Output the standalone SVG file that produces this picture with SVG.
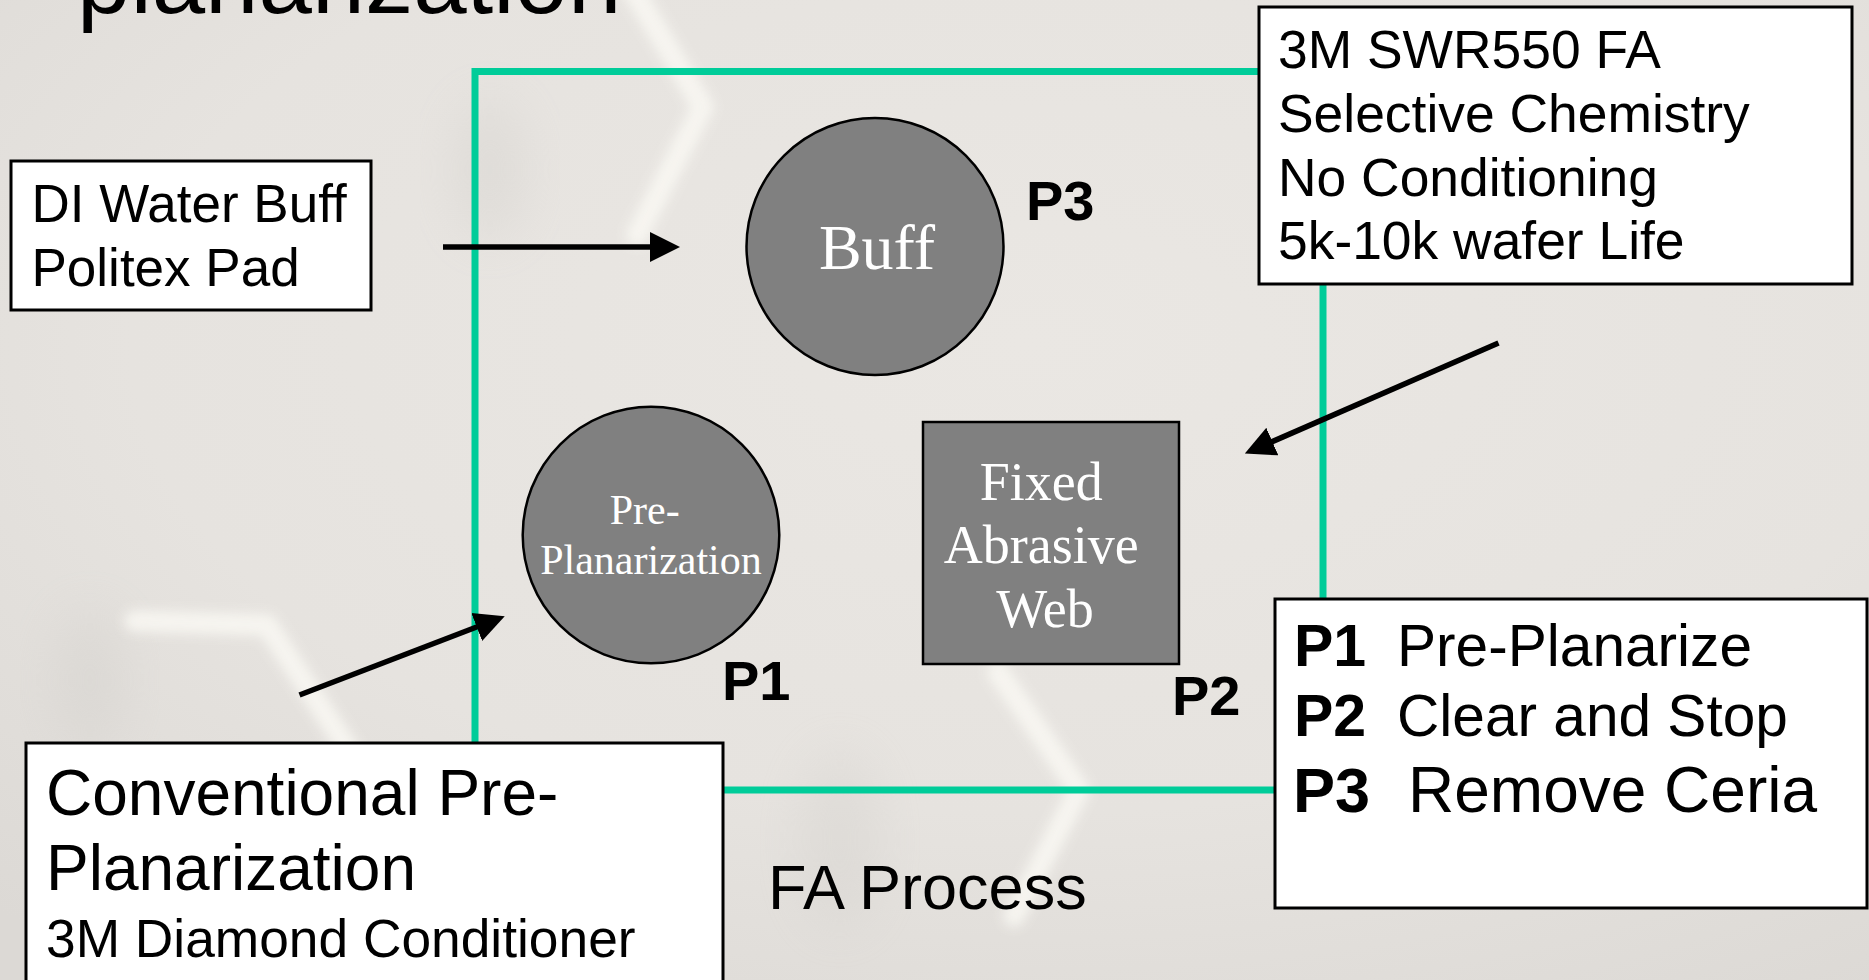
<svg xmlns="http://www.w3.org/2000/svg" width="1869" height="980" viewBox="0 0 1869 980">
  <defs>
    <style>
      .sans { font-family: "Liberation Sans", Arial, sans-serif; fill: #000; }
      .serif { font-family: "Liberation Serif", "Times New Roman", serif; fill: #fff; text-anchor: middle; }
      .bold { font-weight: bold; }
      .box { fill: #fff; stroke: #000; stroke-width: 3; }
      .pad { fill: #808080; stroke: #000; stroke-width: 2.5; }
      .frame { fill: none; stroke: #00cc99; stroke-width: 7; }
      .conn { stroke: #000; stroke-width: 5.5; fill: none; marker-end: url(#head); }
      .glow { fill: none; stroke: #f9f8f3; stroke-linejoin: round; stroke-linecap: round; filter: url(#soft); }
      .shade { fill: #cfccc8; filter: url(#haze); }
    </style>
    <marker id="head" viewBox="0 -16 32 32" refX="2" refY="0" markerWidth="32" markerHeight="32" markerUnits="userSpaceOnUse" orient="auto">
      <path d="M0,-15 L30,0 L0,15 z" fill="#000"/>
    </marker>
    <radialGradient id="bg" cx="0.55" cy="0.35" r="0.8">
      <stop offset="0" stop-color="#eae7e3"/>
      <stop offset="0.6" stop-color="#e6e3df"/>
      <stop offset="1" stop-color="#dcd9d5"/>
    </radialGradient>
    <filter id="soft" x="-30%" y="-30%" width="160%" height="160%">
      <feGaussianBlur stdDeviation="6"/>
    </filter>
    <filter id="haze" x="-50%" y="-50%" width="200%" height="200%">
      <feGaussianBlur stdDeviation="25"/>
    </filter>
  </defs>

  <!-- slide backdrop: soft hexagon highlights -->
  <rect x="0" y="0" width="1869" height="980" fill="url(#bg)"/>
  <g id="backdrop">
    <ellipse class="shade" cx="490" cy="170" rx="35" ry="70" opacity="0.35"/>
    <ellipse class="shade" cx="90" cy="680" rx="35" ry="70" opacity="0.35"/>
    <ellipse class="shade" cx="840" cy="840" rx="40" ry="90" opacity="0.3"/>
    <path class="glow" stroke-width="22" opacity="0.85" d="M630,-15 L703,107 L637,235"/>
    <path class="glow" stroke-width="22" opacity="0.85" d="M135,621 L267,625 L350,752"/>
    <path class="glow" stroke-width="22" opacity="0.85" d="M998,672 L1079,790 L1014,916"/>
  </g>

  <text id="title" class="sans" x="77" y="13" font-size="96" fill="#111">planarization</text>

  <!-- FA process frame -->
  <g id="fa-frame">
    <rect class="frame" x="475" y="71.5" width="848" height="718.5"/>
  </g>

  <!-- connectors -->
  <g id="connectors">
    <line class="conn" x1="443" y1="247" x2="652" y2="247"/>
    <line class="conn" x1="1498.5" y1="343" x2="1270.5" y2="442.4"/>
    <line class="conn" x1="299.5" y1="695" x2="478.6" y2="626.3"/>
  </g>

  <g id="di-water">
    <rect class="box" x="11" y="161" width="360" height="149"/>
    <text class="sans" x="31.5" y="222" font-size="53">DI Water Buff</text>
    <text class="sans" x="31.5" y="286" font-size="53">Politex Pad</text>
  </g>

  <g id="buff">
    <circle class="pad" cx="875" cy="246.5" r="128.5"/>
    <text class="serif" x="877" y="269" font-size="64">Buff</text>
  </g>

  <g id="label-p3">
    <text class="sans bold" x="1026" y="220" font-size="56">P3</text>
  </g>

  <g id="swr550">
    <rect class="box" x="1259" y="7" width="593" height="277"/>
    <text class="sans" font-size="53.4">
      <tspan x="1278" y="68">3M SWR550 FA</tspan>
      <tspan x="1278" y="132">Selective Chemistry</tspan>
      <tspan x="1278" y="196">No Conditioning</tspan>
      <tspan x="1278" y="259">5k-10k wafer Life</tspan>
    </text>
  </g>

  <g id="pre-planarization">
    <circle class="pad" cx="651" cy="535" r="128.3"/>
    <text class="serif" font-size="42">
      <tspan x="650" y="524">Pre-</tspan>
      <tspan x="651" y="574">Planarization</tspan>
    </text>
  </g>

  <g id="label-p1">
    <text class="sans bold" x="722" y="700" font-size="56">P1</text>
  </g>

  <g id="fixed-abrasive">
    <rect class="pad" x="923" y="422" width="256" height="242"/>
    <text class="serif" font-size="54">
      <tspan x="1048" y="500">Fixed</tspan>
      <tspan x="1048" y="563">Abrasive</tspan>
      <tspan x="1045" y="627">Web</tspan>
    </text>
  </g>

  <g id="label-p2">
    <text class="sans bold" x="1172" y="715" font-size="56">P2</text>
  </g>

  <g id="legend">
    <rect class="box" x="1275" y="599" width="592" height="309"/>
    <text class="sans bold" x="1294" y="666" font-size="59">P1</text>
    <text class="sans" x="1397" y="666" font-size="58.6">Pre-Planarize</text>
    <text class="sans bold" x="1294" y="736" font-size="59">P2</text>
    <text class="sans" x="1397" y="736" font-size="58.6">Clear and Stop</text>
    <text class="sans bold" x="1293" y="812" font-size="63">P3</text>
    <text class="sans" x="1408" y="812" font-size="64">Remove Ceria</text>
  </g>

  <g id="conventional">
    <rect class="box" x="26" y="743" width="697" height="260"/>
    <text class="sans" x="46" y="815" font-size="64">Conventional Pre-</text>
    <text class="sans" x="46" y="890" font-size="64">Planarization</text>
    <text class="sans" x="46" y="957" font-size="53.3">3M Diamond Conditioner</text>
  </g>

  <g id="fa-process-caption">
    <text class="sans" x="768" y="909" font-size="63">FA Process</text>
  </g>
</svg>
